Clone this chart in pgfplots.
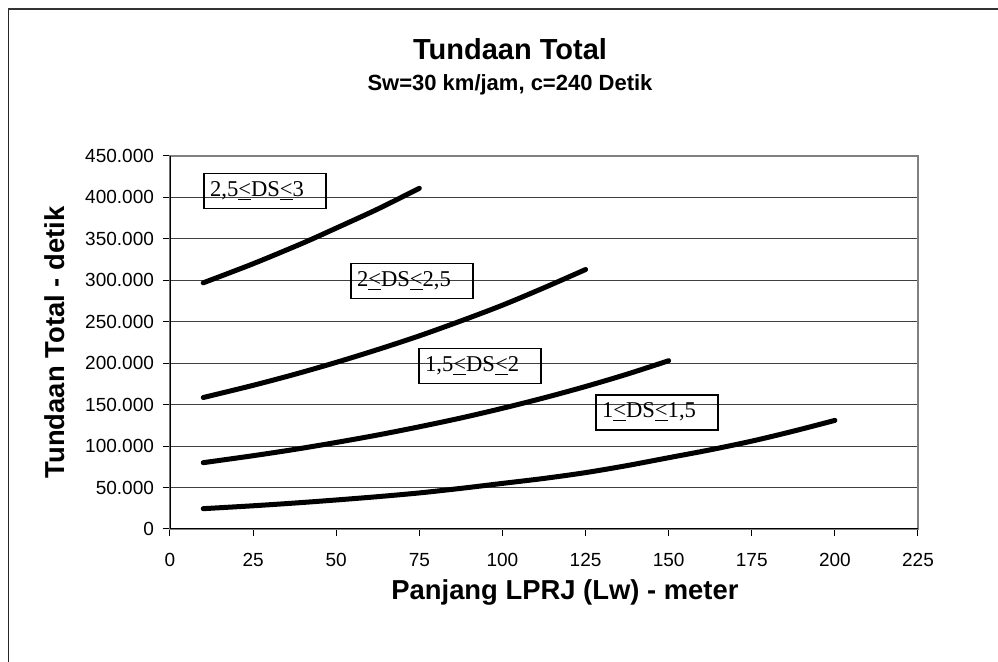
\documentclass[border=0pt]{standalone}
\usepackage{pgfplots}
\pgfplotsset{compat=1.18}
\usepackage{fontspec}
\setmainfont{Liberation Sans}
\newfontfamily\tnr{Liberation Serif}

% curve data: x = Lw (meter), y = tundaan total (detik)
\pgfplotstableread{
x y
10 24500
25 28000
37.5 31300
50 35000
62.5 39000
75 43500
87.5 49000
100 55000
112.5 61000
125 68000
137.5 76500
150 86000
162.5 95500
175 106000
187.5 118000
200 131000
}\dsA
\pgfplotstableread{
x y
10 80000
25 88400
37.5 96000
50 104400
62.5 113400
75 123300
87.5 133900
100 145600
112.5 158200
125 171900
137.5 186800
150 203000
}\dsB
\pgfplotstableread{
x y
10 158600
25 173300
37.5 186600
50 201000
62.5 216500
75 233000
87.5 251000
100 270000
112.5 291000
125 313000
}\dsC
\pgfplotstableread{
x y
10 297000
25 320000
40 345000
50 363000
62.5 386000
75 411000
}\dsD

\tikzset{dslab/.style={draw=black, line width=0.7pt, font=\tnr\fontsize{11.3}{13}\selectfont,
  text width=55pt, align=left, inner xsep=3pt, inner ysep=0pt, minimum height=17.5pt}}

\begin{document}
\begin{tikzpicture}
\useasboundingbox (0,0) rectangle (499pt,331pt);
\draw[black!85, line width=0.6pt] (4.2pt,0) -- (4.2pt,326.7pt);
\draw[black!80, line width=1pt] (4.2pt,326.7pt) -- (499pt,326.7pt);
\node[font=\fontsize{14.5}{16}\selectfont\bfseries, anchor=base] at (255pt,301.3pt) {Tundaan Total};
\node[font=\fontsize{11}{13}\selectfont\bfseries, anchor=base] at (255pt,285.6pt) {Sw=30 km/jam, c=240 Detik};
\begin{axis}[
  at={(85pt,66.5pt)}, anchor=south west,
  scale only axis,
  width=374pt, height=186.5pt,
  xmin=0, xmax=225, ymin=0, ymax=450000,
  xtick={0,25,...,225},
  ytick={0,50000,...,450000},
  scaled y ticks=false,
  /pgf/number format/assume math mode=true,
  tick label style={font=\fontsize{9.5}{11}\selectfont},
  xticklabel style={yshift=-5pt},
  yticklabel style={/pgf/number format/fixed, /pgf/number format/1000 sep={.}, xshift=-1pt},
  tick align=outside,
  major tick length=3.5pt,
  tick style={black, line width=0.5pt},
  xtick pos=bottom, ytick pos=left,
  axis line style={gray, line width=0.8pt},
  ymajorgrids,
  major grid style={black!75, line width=0.5pt},
  xlabel={Panjang LPRJ (Lw) - meter},
  ylabel={Tundaan Total - detik},
  label style={font=\fontsize{13.7}{15}\selectfont\bfseries},
  xlabel style={at={(axis description cs:0.528,-0.190)}, anchor=base},
  ylabel style={at={(axis description cs:-0.1404,0.5)}, anchor=base},
]
\addplot[black, line width=2.5pt, line cap=round, smooth] table[x=x,y=y] {\dsA};
\addplot[black, line width=2.5pt, line cap=round, smooth] table[x=x,y=y] {\dsB};
\addplot[black, line width=2.5pt, line cap=round, smooth] table[x=x,y=y] {\dsC};
\addplot[black, line width=2.5pt, line cap=round, smooth] table[x=x,y=y] {\dsD};
\draw[black, line width=0.8pt] (rel axis cs:0,1) -- (rel axis cs:0,0) -- (rel axis cs:1,0);
\node[dslab] at (axis cs:28.6,408000) {2,5\underline{<}DS\underline{<}3};
\node[dslab] at (axis cs:72.8,299500) {2\underline{<}DS\underline{<}2,5};
\node[dslab] at (axis cs:93.3,196900) {1,5\underline{<}DS\underline{<}2};
\node[dslab] at (axis cs:146.5,140700) {1\underline{<}DS\underline{<}1,5};
\end{axis}
\end{tikzpicture}
\end{document}
